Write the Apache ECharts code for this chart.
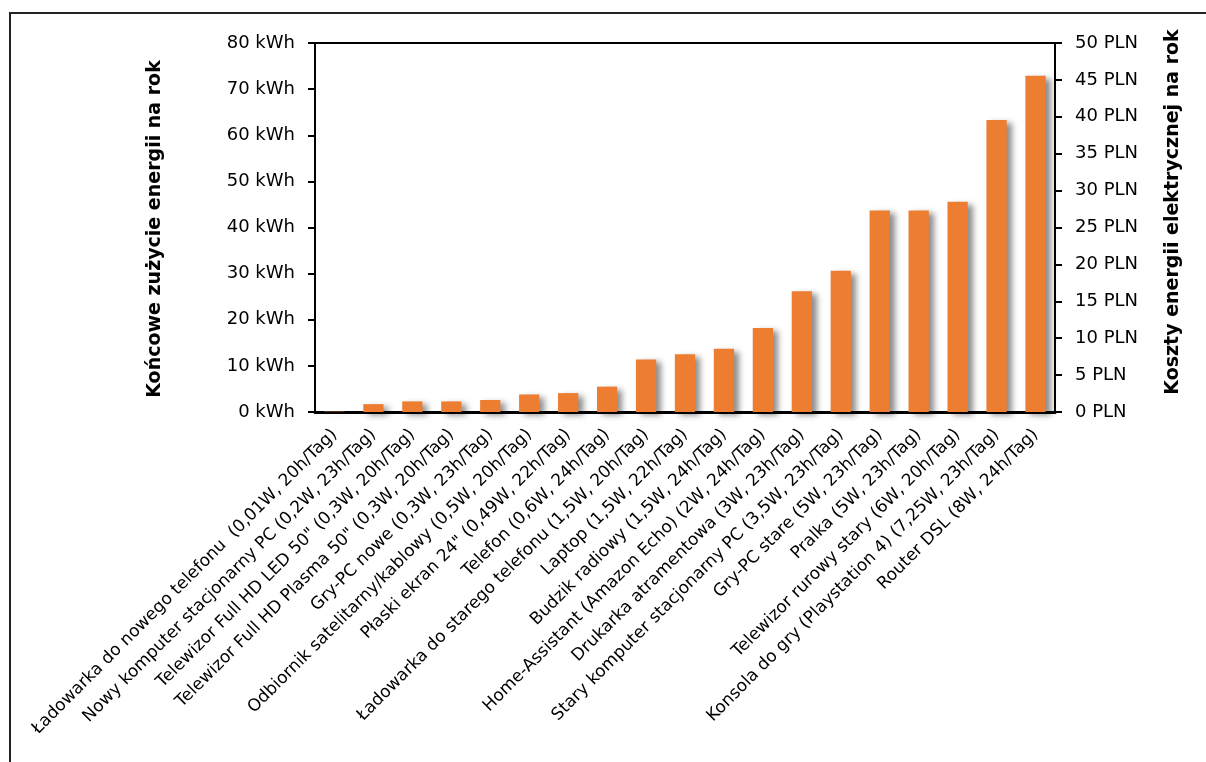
<!DOCTYPE html>
<html>
<head>
<meta charset="utf-8">
<script src="https://cdn.jsdelivr.net/npm/echarts@6/dist/echarts.min.js"></script>
<style>
  html, body { margin: 0; padding: 0; background: #fff; }
  #chart { width: 1206px; height: 762px; }
</style>
</head>
<body>
<div id="chart"></div>
<script>
// Devices (power in standby, hours per day)
const categories = [
  'Ładowarka do nowego telefonu  (0,01W, 20h/Tag)',
  'Nowy komputer stacjonarny PC (0,2W, 23h/Tag)',
  'Telewizor Full HD LED 50" (0,3W, 20h/Tag)',
  'Telewizor Full HD Plasma 50" (0,3W, 20h/Tag)',
  'Gry-PC nowe (0,3W, 23h/Tag)',
  'Odbiornik satelitarny/kablowy (0,5W, 20h/Tag)',
  'Płaski ekran 24" (0,49W, 22h/Tag)',
  'Telefon (0,6W, 24h/Tag)',
  'Ładowarka do starego telefonu (1,5W, 20h/Tag)',
  'Laptop (1,5W, 22h/Tag)',
  'Budzik radiowy (1,5W, 24h/Tag)',
  'Home-Assistant (Amazon Echo) (2W, 24h/Tag)',
  'Drukarka atramentowa (3W, 23h/Tag)',
  'Stary komputer stacjonarny PC (3,5W, 23h/Tag)',
  'Gry-PC stare (5W, 23h/Tag)',
  'Pralka (5W, 23h/Tag)',
  'Telewizor rurowy stary (6W, 20h/Tag)',
  'Konsola do gry (Playstation 4) (7,25W, 23h/Tag)',
  'Router DSL (8W, 24h/Tag)'
];

// Final energy use per year, kWh
const energyKWh = [0.08, 1.7, 2.3, 2.3, 2.6, 3.8, 4.1, 5.5, 11.4, 12.5, 13.7, 18.2, 26.2, 30.6, 43.7, 43.7, 45.6, 63.3, 72.9];

// Axis ranges
const energyAxis = { min: 0, max: 80, interval: 10, unit: 'kWh' };
const costAxis = { min: 0, max: 50, interval: 5, unit: 'PLN' };

const leftTitle = 'Końcowe zużycie energii na rok';
const rightTitle = 'Koszty energii elektrycznej na rok';

const FONT = 'DejaVu Sans';
const chart = echarts.init(document.getElementById('chart'), null, { renderer: 'canvas' });

const valueAxisCommon = {
  type: 'value',
  splitLine: { show: false },
  axisLine: { show: true, lineStyle: { color: '#000', width: 2 } },
  axisTick: { show: true, inside: false, length: 7, lineStyle: { color: '#000', width: 2 } },
  axisLabel: { color: '#000', fontFamily: FONT, fontSize: 18, margin: 20 }
};

chart.setOption({
  animation: false,
  backgroundColor: '#fff',
  grid: {
    left: 315, right: 151, top: 43, bottom: 350,
    show: true, borderColor: '#000', borderWidth: 2, backgroundColor: 'transparent'
  },
  xAxis: {
    type: 'category',
    data: categories,
    axisLine: { show: true, lineStyle: { color: '#000', width: 3 } },
    axisTick: { show: false },
    axisLabel: {
      interval: 0, rotate: 45, color: '#000', fontFamily: FONT, fontSize: 17, margin: 20
    }
  },
  yAxis: [
    Object.assign({}, valueAxisCommon, {
      position: 'left',
      min: energyAxis.min, max: energyAxis.max, interval: energyAxis.interval,
      axisLabel: Object.assign({}, valueAxisCommon.axisLabel, {
        formatter: v => v + ' ' + energyAxis.unit
      })
    }),
    Object.assign({}, valueAxisCommon, {
      position: 'right',
      min: costAxis.min, max: costAxis.max, interval: costAxis.interval,
      axisLabel: Object.assign({}, valueAxisCommon.axisLabel, {
        formatter: v => v + ' ' + costAxis.unit
      })
    })
  ],
  series: [{
    type: 'bar',
    yAxisIndex: 0,
    data: energyKWh,
    barWidth: '52%',
    itemStyle: {
      color: '#ED7D31',
      shadowColor: 'rgba(0,0,0,0.45)',
      shadowBlur: 6,
      shadowOffsetX: 5,
      shadowOffsetY: 3
    }
  }],
  graphic: [
    {
      type: 'rect', z: -1, silent: true,
      shape: { x: 10, y: 13, width: 1260, height: 800 },
      style: { fill: 'none', stroke: '#222', lineWidth: 2 }
    },
    {
      type: 'text', x: 155, y: 229, rotation: Math.PI / 2,
      style: {
        text: leftTitle, fill: '#000', font: 'bold 19px "' + FONT + '"',
        textAlign: 'center', textVerticalAlign: 'middle'
      }
    },
    {
      type: 'text', x: 1173, y: 212, rotation: Math.PI / 2,
      style: {
        text: rightTitle, fill: '#000', font: 'bold 19px "' + FONT + '"',
        textAlign: 'center', textVerticalAlign: 'middle'
      }
    }
  ]
});
</script>
</body>
</html>
